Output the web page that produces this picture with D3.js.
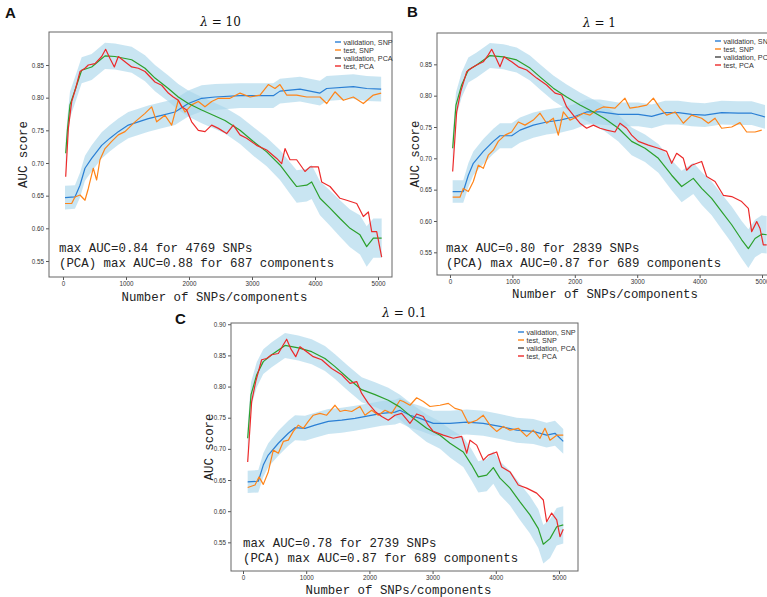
<!DOCTYPE html>
<html>
<head>
<meta charset="utf-8">
<script src="https://cdn.jsdelivr.net/npm/d3@7"></script>
<style>
  body { margin: 0; background: #fff; }
  svg { display: block; }
</style>
</head>
<body>
<svg id="chart" width="767" height="597"></svg>
<script>
// ---- data: [n, auc] or [n, auc, spread] ----
const seriesNames = ["validation, SNP", "test, SNP", "validation, PCA", "test, PCA"];
const xTicks = [0, 1000, 2000, 3000, 4000, 5000];
const yTicksAB = [0.55, 0.60, 0.65, 0.70, 0.75, 0.80, 0.85];
const yTicksC = [0.55, 0.60, 0.65, 0.70, 0.75, 0.80, 0.85, 0.90];

// panel A, lambda = 10
const valSnpA = [[32,0.647,0.018],[190,0.648,0.018],[270,0.666,0.019],[349,0.692,0.019],[455,0.707,0.02],[614,0.727,0.02],[746,0.738,0.02],[878,0.748,0.02],[1037,0.758,0.02],[1196,0.763,0.02],[1354,0.768,0.02],[1566,0.773,0.02],[1778,0.778,0.02],[1989,0.791,0.02],[2201,0.799,0.02],[2413,0.801,0.02],[2810,0.803,0.019],[3127,0.803,0.019],[3338,0.803,0.019],[3444,0.81,0.019],[3762,0.813,0.019],[4079,0.807,0.019],[4185,0.814,0.019],[4608,0.817,0.019],[4820,0.814,0.019],[5050,0.813,0.019]];
const testSnpA = [[32,0.638],[138,0.638],[190,0.648],[270,0.651],[349,0.643],[402,0.661],[481,0.692],[534,0.674],[587,0.705],[667,0.722],[773,0.733],[878,0.743],[984,0.748],[1143,0.763],[1302,0.776],[1407,0.786],[1487,0.763],[1619,0.773],[1725,0.758],[1830,0.796],[1937,0.778],[2042,0.789],[2148,0.794],[2254,0.786],[2360,0.794],[2466,0.799],[2651,0.799],[2810,0.807],[2968,0.801],[3127,0.804],[3259,0.82],[3365,0.814],[3444,0.82],[3550,0.804],[3709,0.804],[3868,0.801],[4079,0.801],[4185,0.791],[4317,0.809],[4450,0.796],[4608,0.801],[4767,0.791],[4926,0.804],[5050,0.807]];
const valPcaA = [[43,0.715,0.02],[70,0.75,0.02],[111,0.789,0.02],[217,0.819,0.02],[296,0.842,0.02],[455,0.847,0.02],[667,0.864,0.02],[825,0.863,0.02],[1090,0.858,0.02],[1302,0.845,0.02],[1460,0.83,0.02],[1672,0.814,0.02],[1830,0.801,0.02],[1989,0.791,0.02],[2201,0.781,0.02],[2413,0.772,0.02],[2571,0.765,0.02],[2810,0.75,0.021],[3021,0.733,0.022],[3233,0.717,0.022],[3444,0.697,0.023],[3603,0.677,0.024],[3709,0.664,0.025],[3868,0.666,0.025],[3947,0.671,0.026],[4079,0.646,0.026],[4238,0.631,0.027],[4397,0.615,0.028],[4556,0.6,0.029],[4714,0.59,0.03],[4820,0.572,0.031],[4926,0.585,0.03],[5058,0.585,0.03]];
const testPcaA = [[43,0.679],[85,0.753],[138,0.794],[201,0.814],[270,0.84],[349,0.845],[402,0.85],[508,0.852],[614,0.863],[677,0.874],[746,0.86],[815,0.847],[878,0.863],[984,0.855],[1090,0.847],[1196,0.845],[1302,0.84],[1460,0.824],[1566,0.819],[1672,0.807],[1751,0.801],[1830,0.796],[1884,0.786],[1963,0.781],[2042,0.763],[2148,0.75],[2254,0.748],[2360,0.758],[2466,0.753],[2598,0.745],[2703,0.758],[2810,0.743],[2915,0.738],[3074,0.727],[3233,0.72],[3392,0.707],[3471,0.699],[3524,0.722],[3603,0.705],[3709,0.705],[3841,0.687],[3921,0.694],[4053,0.694],[4106,0.671],[4238,0.664],[4397,0.646],[4503,0.643],[4662,0.638],[4767,0.618],[4847,0.625],[4900,0.595],[4979,0.595],[5058,0.556]];

// panel B, lambda = 1
const valSnpB = [[43,0.647,0.018],[213,0.647,0.018],[294,0.673,0.019],[374,0.692,0.019],[534,0.711,0.02],[694,0.727,0.02],[801,0.736,0.02],[988,0.736,0.02],[1122,0.745,0.02],[1335,0.753,0.02],[1549,0.758,0.02],[1763,0.761,0.02],[1976,0.766,0.02],[2190,0.774,0.02],[2404,0.774,0.02],[2698,0.77,0.019],[3018,0.77,0.019],[3232,0.767,0.019],[3446,0.773,0.019],[3659,0.773,0.019],[3872,0.77,0.019],[4086,0.769,0.019],[4353,0.773,0.019],[4620,0.772,0.019],[4834,0.772,0.019],[5048,0.766,0.019]];
const testSnpB = [[43,0.638],[160,0.638],[213,0.652],[294,0.647],[374,0.663],[454,0.689],[534,0.684],[614,0.705],[694,0.713],[774,0.727],[881,0.737],[988,0.742],[1095,0.758],[1202,0.753],[1335,0.761],[1442,0.772],[1549,0.756],[1656,0.764],[1736,0.737],[1816,0.774],[1923,0.761],[2030,0.766],[2137,0.772],[2244,0.769],[2350,0.777],[2457,0.782],[2644,0.78],[2804,0.796],[2884,0.78],[3018,0.782],[3152,0.785],[3259,0.796],[3365,0.78],[3472,0.769],[3606,0.774],[3739,0.756],[3872,0.769],[4033,0.764],[4140,0.756],[4247,0.764],[4353,0.748],[4514,0.75],[4647,0.757],[4754,0.742],[4888,0.742],[4995,0.745]];
const valPcaB = [[43,0.716,0.02],[96,0.785,0.02],[187,0.817,0.02],[294,0.841,0.02],[427,0.849,0.02],[641,0.864,0.02],[855,0.862,0.02],[1068,0.857,0.02],[1282,0.844,0.02],[1442,0.83,0.02],[1656,0.812,0.02],[1870,0.798,0.02],[2083,0.785,0.02],[2297,0.774,0.02],[2484,0.763,0.02],[2698,0.748,0.021],[2911,0.727,0.022],[3125,0.716,0.022],[3339,0.7,0.023],[3552,0.673,0.024],[3712,0.655,0.025],[3899,0.668,0.025],[4033,0.652,0.026],[4193,0.636,0.027],[4353,0.615,0.028],[4514,0.594,0.029],[4674,0.57,0.03],[4781,0.556,0.031],[4888,0.572,0.03],[4995,0.579,0.03],[5075,0.578,0.03]];
const testPcaB = [[43,0.679],[107,0.774],[171,0.806],[267,0.838],[347,0.844],[427,0.849],[534,0.854],[614,0.865],[668,0.874],[737,0.86],[801,0.846],[865,0.862],[988,0.854],[1095,0.846],[1229,0.841],[1389,0.828],[1549,0.817],[1683,0.804],[1790,0.801],[1870,0.782],[1976,0.769],[2083,0.756],[2190,0.748],[2297,0.753],[2404,0.748],[2511,0.745],[2644,0.742],[2724,0.756],[2831,0.748],[2911,0.737],[3018,0.727],[3178,0.721],[3339,0.716],[3472,0.711],[3552,0.692],[3632,0.708],[3739,0.7],[3792,0.681],[3872,0.689],[4033,0.695],[4113,0.671],[4247,0.663],[4380,0.641],[4514,0.639],[4674,0.631],[4781,0.62],[4834,0.583],[4915,0.599],[4968,0.588],[5021,0.562],[5075,0.562]];

// panel C, lambda = 0.1
const valSnpC = [[74,0.647,0.018],[242,0.648,0.018],[321,0.674,0.019],[400,0.69,0.019],[559,0.709,0.02],[717,0.725,0.02],[823,0.734,0.02],[981,0.733,0.02],[1139,0.738,0.02],[1350,0.744,0.02],[1562,0.746,0.02],[1772,0.749,0.02],[1983,0.753,0.02],[2195,0.757,0.02],[2405,0.759,0.02],[2484,0.762,0.02],[2642,0.754,0.02],[2801,0.749,0.02],[3011,0.741,0.02],[3275,0.741,0.02],[3540,0.743,0.02],[3802,0.741,0.02],[4066,0.736,0.02],[4331,0.73,0.02],[4593,0.728,0.02],[4805,0.722,0.02],[4937,0.725,0.02],[5068,0.712,0.02]];
const testSnpC = [[74,0.638],[190,0.642],[253,0.655],[321,0.643],[400,0.663],[479,0.698],[559,0.693],[638,0.712],[717,0.714],[796,0.728],[875,0.738],[954,0.733],[1033,0.744],[1112,0.754],[1218,0.757],[1324,0.754],[1456,0.77],[1535,0.76],[1614,0.762],[1720,0.76],[1851,0.768],[1930,0.754],[2036,0.762],[2141,0.754],[2247,0.762],[2353,0.757],[2484,0.778],[2537,0.776],[2642,0.77],[2748,0.782],[2853,0.776],[2959,0.768],[3117,0.77],[3249,0.773],[3354,0.765],[3460,0.762],[3565,0.741],[3698,0.746],[3802,0.754],[3908,0.738],[4014,0.728],[4119,0.736],[4225,0.73],[4356,0.733],[4489,0.72],[4593,0.73],[4699,0.717],[4778,0.733],[4858,0.714],[4964,0.722],[5068,0.722]];
const valPcaC = [[74,0.717,0.02],[127,0.787,0.02],[217,0.819,0.02],[321,0.84,0.02],[454,0.851,0.02],[665,0.866,0.02],[875,0.862,0.02],[1087,0.856,0.02],[1297,0.845,0.02],[1456,0.832,0.02],[1666,0.813,0.02],[1878,0.795,0.02],[2089,0.787,0.02],[2299,0.778,0.02],[2484,0.767,0.02],[2695,0.749,0.021],[2906,0.733,0.022],[3117,0.722,0.022],[3275,0.709,0.023],[3486,0.695,0.024],[3619,0.674,0.025],[3724,0.655,0.025],[3856,0.658,0.026],[3961,0.67,0.026],[4066,0.653,0.027],[4225,0.637,0.028],[4383,0.615,0.029],[4541,0.594,0.03],[4673,0.572,0.031],[4752,0.547,0.031],[4858,0.556,0.031],[4964,0.575,0.03],[5068,0.578,0.03]];
const testPcaC = [[74,0.679],[137,0.776],[201,0.808],[295,0.843],[375,0.845],[454,0.851],[559,0.853],[638,0.867],[691,0.876],[759,0.86],[834,0.848],[902,0.864],[1008,0.856],[1112,0.848],[1245,0.843],[1403,0.829],[1562,0.819],[1693,0.805],[1799,0.808],[1878,0.789],[1983,0.773],[2089,0.76],[2195,0.752],[2299,0.746],[2405,0.754],[2511,0.757],[2642,0.741],[2748,0.756],[2853,0.752],[2932,0.738],[3011,0.728],[3169,0.722],[3328,0.717],[3460,0.72],[3540,0.693],[3592,0.714],[3698,0.706],[3802,0.682],[3881,0.69],[4014,0.695],[4093,0.671],[4225,0.663],[4356,0.642],[4489,0.637],[4647,0.629],[4752,0.618],[4805,0.583],[4884,0.597],[4964,0.586],[5016,0.559],[5068,0.571]];

// ---- styling ----
const lineColors = ["#2a7fd4", "#ff8418", "#2ca02c", "#ec2a2a"];
const legendColors = ["#2a7fd4", "#ff8418", "#444", "#ec2a2a"];
const bandColor = "#a8d5ea";
const mono = "'Liberation Mono', 'DejaVu Sans Mono', monospace";
const sans = "'Liberation Sans', Arial, sans-serif";

const panels = [
  { letter: "A", lx: 5, ly: 18, lambda: "10", left: 49, right: 392, top: 32, bottom: 277,
    xDomain: [-222, 5222], yDomain: [0.5255, 0.9005], yTicks: yTicksAB,
    series: [valSnpA, testSnpA, valPcaA, testPcaA],
    notes: ["max AUC=0.84 for 4769 SNPs", "(PCA) max AUC=0.88 for 687 components"],
    noteX: 59, noteY: 252, legX: 335, legY: 42, ylabX: 23, xlabY: 301 },
  { letter: "B", lx: 407, ly: 17, lambda: "1", left: 437, right: 780, top: 33, bottom: 275,
    xDomain: [-208, 5288], yDomain: [0.5138, 0.900], yTicks: yTicksAB,
    series: [valSnpB, testSnpB, valPcaB, testPcaB],
    notes: ["max AUC=0.80 for 2839 SNPs", "(PCA) max AUC=0.87 for 689 components"],
    noteX: 446, noteY: 252, legX: 715, legY: 41, ylabX: 415, xlabY: 298 },
  { letter: "C", lx: 175, ly: 324, lambda: "0.1", left: 231, right: 578, top: 323, bottom: 571,
    xDomain: [-190, 5301], yDomain: [0.504, 0.902], yTicks: yTicksC,
    series: [valSnpC, testSnpC, valPcaC, testPcaC],
    notes: ["max AUC=0.78 for 2739 SNPs", "(PCA) max AUC=0.87 for 689 components"],
    noteX: 243, noteY: 547, legX: 518, legY: 332, ylabX: 209, xlabY: 594 }
];

const svg = d3.select("#chart");

panels.forEach(function (p) {
  const g = svg.append("g");
  const x = d3.scaleLinear().domain(p.xDomain).range([p.left, p.right]);
  const y = d3.scaleLinear().domain(p.yDomain).range([p.bottom, p.top]);

  svg.append("clipPath").attr("id", "clip" + p.letter)
    .append("rect").attr("x", p.left).attr("y", p.top)
    .attr("width", p.right - p.left).attr("height", p.bottom - p.top);
  const plot = g.append("g").attr("clip-path", "url(#clip" + p.letter + ")");

  // shaded spread round the two validation curves
  const band = d3.area().x(d => x(d[0])).y0(d => y(d[1] - d[2])).y1(d => y(d[1] + d[2]));
  [p.series[0], p.series[2]].forEach(function (s) {
    plot.append("path").attr("d", band(s)).attr("fill", bandColor).attr("opacity", 0.62);
  });

  const line = d3.line().x(d => x(d[0])).y(d => y(d[1]));
  p.series.forEach(function (s, i) {
    plot.append("path").attr("d", line(s)).attr("fill", "none")
      .attr("stroke", lineColors[i]).attr("stroke-width", 1.2).attr("stroke-linejoin", "round");
  });

  // axes
  const xa = g.append("g").attr("transform", "translate(0," + p.bottom + ")")
    .call(d3.axisBottom(x).tickValues(xTicks).tickSize(3).tickPadding(2).tickFormat(d3.format("d")));
  const ya = g.append("g").attr("transform", "translate(" + p.left + ",0)")
    .call(d3.axisLeft(y).tickValues(p.yTicks).tickSize(3).tickPadding(2).tickFormat(d3.format(".2f")));
  [xa, ya].forEach(function (a) {
    a.select(".domain").remove();
    a.selectAll("line").attr("stroke", "#555");
    a.selectAll("text").attr("font-family", sans).attr("font-size", 6.3).attr("fill", "#333");
  });

  // frame
  g.append("rect").attr("x", p.left).attr("y", p.top)
    .attr("width", p.right - p.left).attr("height", p.bottom - p.top)
    .attr("fill", "none").attr("stroke", "#666").attr("stroke-width", 1);

  // legend
  seriesNames.forEach(function (name, i) {
    const ly = p.legY + i * 8;
    g.append("line").attr("x1", p.legX).attr("x2", p.legX + 6).attr("y1", ly).attr("y2", ly)
      .attr("stroke", legendColors[i]).attr("stroke-width", 1.4);
    g.append("text").attr("x", p.legX + 8.5).attr("y", ly + 2.5).text(name)
      .attr("font-family", sans).attr("font-size", 7.2).attr("fill", "#333");
  });

  // annotations
  p.notes.forEach(function (t, i) {
    g.append("text").attr("x", p.noteX).attr("y", p.noteY + i * 14.5).text(t)
      .attr("font-family", mono).attr("font-size", 12.4).attr("fill", "#222")
      .attr("xml:space", "preserve");
  });

  // title
  const title = g.append("text").attr("x", (p.left + Math.min(p.right, 767 + 20)) / 2 - (p.letter === "B" ? 9 : 0))
    .attr("y", p.top - 6).attr("text-anchor", "middle")
    .attr("font-family", "'DejaVu Serif', serif").attr("font-size", 12).attr("fill", "#111");
  title.append("tspan").attr("font-style", "italic").text("\u03bb");
  title.append("tspan").text(" = " + p.lambda);

  // axis labels
  g.append("text").attr("transform", "translate(" + p.ylabX + "," + ((p.top + p.bottom) / 2) + ") rotate(-90)")
    .attr("text-anchor", "middle").attr("dy", "0.35em").text("AUC score")
    .attr("font-family", mono).attr("font-size", 12.4).attr("fill", "#222");
  const xCenter = p.letter === "B" ? 605 : (p.left + p.right) / 2 - 6;
  g.append("text").attr("x", xCenter).attr("y", p.xlabY).attr("text-anchor", "middle")
    .text("Number of SNPs/components")
    .attr("font-family", mono).attr("font-size", 12.4).attr("fill", "#222");

  // panel letter
  g.append("text").attr("x", p.lx).attr("y", p.ly).text(p.letter)
    .attr("font-family", sans).attr("font-weight", "bold").attr("font-size", 15).attr("fill", "#111");
});
</script>
</body>
</html>
